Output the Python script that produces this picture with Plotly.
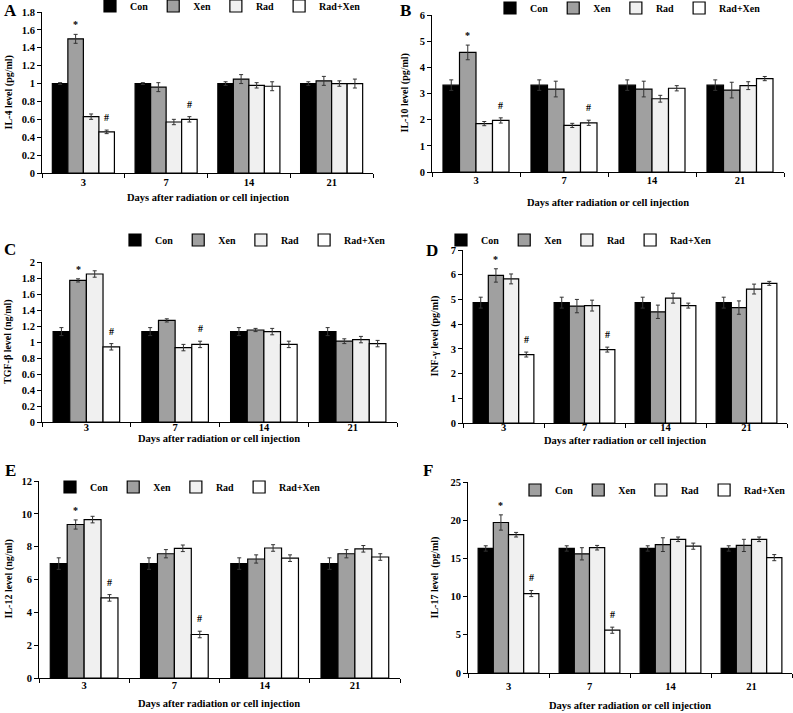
import plotly.graph_objects as go

# ---------------- data ----------------
days = ["3", "7", "14", "21"]
series_names = ["Con", "Xen", "Rad", "Rad+Xen"]
sig_xen = ["*", "", "", ""]
sig_radxen = ["#", "#", "", ""]

# A: IL-4 (pg/ml)
il4_con = [1.00, 1.00, 1.00, 1.00]
il4_xen = [1.50, 0.96, 1.05, 1.03]
il4_rad = [0.63, 0.57, 0.98, 1.00]
il4_radxen = [0.46, 0.60, 0.97, 1.00]
il4_con_err = [0.01, 0.01, 0.02, 0.02]
il4_xen_err = [0.05, 0.05, 0.05, 0.05]
il4_rad_err = [0.03, 0.03, 0.03, 0.03]
il4_radxen_err = [0.02, 0.03, 0.05, 0.05]

# B: IL-10 (pg/ml)
il10_con = [3.32, 3.32, 3.32, 3.32]
il10_xen = [4.57, 3.17, 3.17, 3.13]
il10_rad = [1.85, 1.78, 2.80, 3.30]
il10_radxen = [1.97, 1.88, 3.20, 3.57]
il10_con_err = [0.20, 0.20, 0.20, 0.20]
il10_xen_err = [0.28, 0.30, 0.30, 0.30]
il10_rad_err = [0.08, 0.08, 0.13, 0.15]
il10_radxen_err = [0.10, 0.10, 0.10, 0.08]

# C: TGF-beta (ng/ml)
tgf_con = [1.13, 1.13, 1.13, 1.13]
tgf_xen = [1.77, 1.27, 1.15, 1.01]
tgf_rad = [1.85, 0.93, 1.13, 1.03]
tgf_radxen = [0.94, 0.97, 0.97, 0.98]
tgf_con_err = [0.05, 0.05, 0.05, 0.05]
tgf_xen_err = [0.02, 0.02, 0.02, 0.03]
tgf_rad_err = [0.04, 0.04, 0.04, 0.04]
tgf_radxen_err = [0.04, 0.04, 0.04, 0.04]

# D: INF-gamma (pg/ml)
inf_con = [4.87, 4.87, 4.87, 4.87]
inf_xen = [5.97, 4.73, 4.50, 4.67]
inf_rad = [5.83, 4.75, 5.05, 5.42]
inf_radxen = [2.77, 2.97, 4.75, 5.65]
inf_con_err = [0.22, 0.22, 0.22, 0.22]
inf_xen_err = [0.27, 0.27, 0.27, 0.27]
inf_rad_err = [0.20, 0.22, 0.20, 0.20]
inf_radxen_err = [0.10, 0.10, 0.10, 0.08]

# E: IL-12 (ng/ml)
il12_con = [6.97, 6.97, 6.97, 6.97]
il12_xen = [9.35, 7.57, 7.25, 7.57]
il12_rad = [9.65, 7.90, 7.92, 7.87]
il12_radxen = [4.88, 2.65, 7.30, 7.37]
il12_con_err = [0.35, 0.35, 0.35, 0.35]
il12_xen_err = [0.28, 0.25, 0.25, 0.25]
il12_rad_err = [0.20, 0.20, 0.20, 0.20]
il12_radxen_err = [0.20, 0.20, 0.20, 0.20]

# F: IL-17 (pg/ml)
il17_con = [16.3, 16.3, 16.3, 16.3]
il17_xen = [19.7, 15.6, 16.8, 16.7]
il17_rad = [18.1, 16.4, 17.5, 17.5]
il17_radxen = [10.4, 5.6, 16.6, 15.1]
il17_con_err = [0.35, 0.35, 0.35, 0.35]
il17_xen_err = [1.0, 0.8, 0.9, 0.8]
il17_rad_err = [0.3, 0.3, 0.3, 0.3]
il17_radxen_err = [0.4, 0.4, 0.4, 0.4]

# ---------------- styling / layout ----------------
W, H = 793, 713
FONT = "Liberation Serif"
fills = ["#000000", "#a0a0a0", "#f0f0f0", "#ffffff"]
BARGAP = 0.25


def fx(p):
    return p / W


def fy(p):
    return 1 - p / H


panels = [
    dict(letter="A", ytitle="IL-4 level (pg/ml)", yrange=[0, 1.8], dtick=0.2,
         vals=[il4_con, il4_xen, il4_rad, il4_radxen],
         errs=[il4_con_err, il4_xen_err, il4_rad_err, il4_radxen_err],
         xd=(42, 373), yd=(12, 173), letter_xy=(10, 10), ytitle_x=8, xtitle_y=198,
         xlab_shift=-1,
         leg=dict(x=366, y=6, xanchor="right"), leg_fills=fills),
    dict(letter="B", ytitle="IL-10 level (pg/ml)", yrange=[0, 6], dtick=1,
         vals=[il10_con, il10_xen, il10_rad, il10_radxen],
         errs=[il10_con_err, il10_xen_err, il10_rad_err, il10_radxen_err],
         xd=(432, 784), yd=(15, 172), letter_xy=(405, 10), ytitle_x=404, xtitle_y=202,
         xlab_shift=-2,
         leg=dict(x=766, y=8, xanchor="right"), leg_fills=fills),
    dict(letter="C", ytitle="TGF-β level (ng/ml)", yrange=[0, 2], dtick=0.2,
         vals=[tgf_con, tgf_xen, tgf_rad, tgf_radxen],
         errs=[tgf_con_err, tgf_xen_err, tgf_rad_err, tgf_radxen_err],
         xd=(42, 397), yd=(262, 422), letter_xy=(10, 249), ytitle_x=8, xtitle_y=438,
         xlab_shift=-5,
         leg=dict(x=391, y=240, xanchor="right"), leg_fills=fills),
    dict(letter="D", ytitle="INF-γ level (pg/ml)", yrange=[0, 7], dtick=1,
         vals=[inf_con, inf_xen, inf_rad, inf_radxen],
         errs=[inf_con_err, inf_xen_err, inf_rad_err, inf_radxen_err],
         xd=(463, 787), yd=(250, 423), letter_xy=(432, 250), ytitle_x=434, xtitle_y=440,
         xlab_shift=-6,
         leg=dict(x=717, y=240, xanchor="right"), leg_fills=fills),
    dict(letter="E", ytitle="IL-12 level (ng/ml)", yrange=[0, 12], dtick=2,
         vals=[il12_con, il12_xen, il12_rad, il12_radxen],
         errs=[il12_con_err, il12_xen_err, il12_rad_err, il12_radxen_err],
         xd=(39, 400), yd=(481, 678), letter_xy=(10, 471), ytitle_x=8, xtitle_y=703,
         xlab_shift=-3,
         leg=dict(x=50, y=487, xanchor="left"), leg_fills=fills),
    dict(letter="F", ytitle="IL-17 level  (pg/ml)", yrange=[0, 25], dtick=5,
         vals=[il17_con, il17_xen, il17_rad, il17_radxen],
         errs=[il17_con_err, il17_xen_err, il17_rad_err, il17_radxen_err],
         xd=(468, 792), yd=(482, 673), letter_xy=(428, 471), ytitle_x=434, xtitle_y=705,
         xlab_shift=3,
         leg=dict(x=791, y=490, xanchor="right"),
         leg_fills=["#a0a0a0", "#a0a0a0", "#f0f0f0", "#ffffff"]),
]

fig = go.Figure()
layout = dict(
    width=W, height=H, margin=dict(l=0, r=0, t=0, b=0, autoexpand=False),
    paper_bgcolor="white", plot_bgcolor="white",
    barmode="group", bargap=BARGAP, bargroupgap=0,
    font=dict(family=FONT, size=10, color="black", weight="bold"),
    showlegend=True,
)
annotations = []

bar_w = (1 - BARGAP) / len(series_names)


def bar_center(day_idx, s_idx):
    return day_idx - (1 - BARGAP) / 2 + (s_idx + 0.5) * bar_w


for k, p in enumerate(panels, start=1):
    sfx = "" if k == 1 else str(k)
    xa, ya = "x" + sfx, "y" + sfx
    leg = "legend" + sfx
    for j, name in enumerate(series_names):
        real_legend = p["leg_fills"][j] == fills[j]
        fig.add_trace(go.Bar(
            x=days, y=p["vals"][j], name=name, xaxis=xa, yaxis=ya,
            offsetgroup=name, legend=leg, showlegend=real_legend,
            marker=dict(color=fills[j], line=dict(color="black", width=1.2)),
            error_y=dict(type="data", array=p["errs"][j], color="#333333",
                         thickness=1, width=2),
        ))
        if not real_legend:
            fig.add_trace(go.Bar(
                x=[days[0]], y=[None], name=name, xaxis=xa, yaxis=ya,
                offsetgroup=name, legend=leg, showlegend=True,
                marker=dict(color=p["leg_fills"][j], line=dict(color="black", width=1.2)),
            ))
    layout["xaxis" + sfx] = dict(
        domain=[fx(p["xd"][0]), fx(p["xd"][1])], anchor=ya,
        type="category", categoryorder="array", categoryarray=days,
        showline=True, linecolor="black", linewidth=1,
        ticks="outside", ticklen=4, tickcolor="black", tickson="boundaries",
        ticklabelstandoff=p["xlab_shift"],
        tickfont=dict(family=FONT, size=10.5, weight="bold"),
        showgrid=False, zeroline=False, automargin=False,
    )
    layout["yaxis" + sfx] = dict(
        domain=[fy(p["yd"][1]), fy(p["yd"][0])], anchor=xa,
        range=p["yrange"], dtick=p["dtick"], tick0=0,
        showline=True, linecolor="black", linewidth=1,
        ticks="outside", ticklen=4, tickcolor="black",
        tickfont=dict(family=FONT, size=10.5, weight="bold"),
        showgrid=False, zeroline=False, automargin=False,
    )
    layout[leg] = dict(
        orientation="h", x=fx(p["leg"]["x"]), xanchor=p["leg"]["xanchor"],
        y=fy(p["leg"]["y"]), yanchor="middle", xref="paper", yref="paper",
        bgcolor="rgba(0,0,0,0)", font=dict(family=FONT, size=10, weight="bold"),
        itemwidth=30, traceorder="normal",
    )
    annotations.append(dict(
        text=p["letter"], xref="paper", yref="paper",
        x=fx(p["letter_xy"][0]), y=fy(p["letter_xy"][1]),
        xanchor="center", yanchor="middle", showarrow=False,
        font=dict(family=FONT, size=17, weight="bold"),
    ))
    annotations.append(dict(
        text=p["ytitle"], xref="paper", yref="paper",
        x=fx(p["ytitle_x"]), y=fy((p["yd"][0] + p["yd"][1]) / 2),
        xanchor="center", yanchor="middle", textangle=-90, showarrow=False,
        font=dict(family=FONT, size=10, weight="bold"),
    ))
    annotations.append(dict(
        text="Days after radiation or cell injection", xref="paper", yref="paper",
        x=fx((p["xd"][0] + p["xd"][1]) / 2), y=fy(p["xtitle_y"]),
        xanchor="center", yanchor="middle", showarrow=False,
        font=dict(family=FONT, size=10.5, weight="bold"),
    ))
    for s_idx, marks in ((1, sig_xen), (3, sig_radxen)):
        for d_idx, m in enumerate(marks):
            if not m:
                continue
            top = p["vals"][s_idx][d_idx] + p["errs"][s_idx][d_idx]
            annotations.append(dict(
                text=m, xref=xa, yref=ya, x=bar_center(d_idx, s_idx), y=top,
                xanchor="center", yanchor="bottom", showarrow=False,
                yshift=2 if m == "*" else 5,
                font=dict(family=FONT, size=10, weight="bold"),
            ))

layout["annotations"] = annotations
fig.update_layout(**layout)
fig.write_html("out.html",
               config={"displayModeBar": False},
               post_script="document.body.style.margin='0';"
                           "document.body.style.overflow='hidden';")
